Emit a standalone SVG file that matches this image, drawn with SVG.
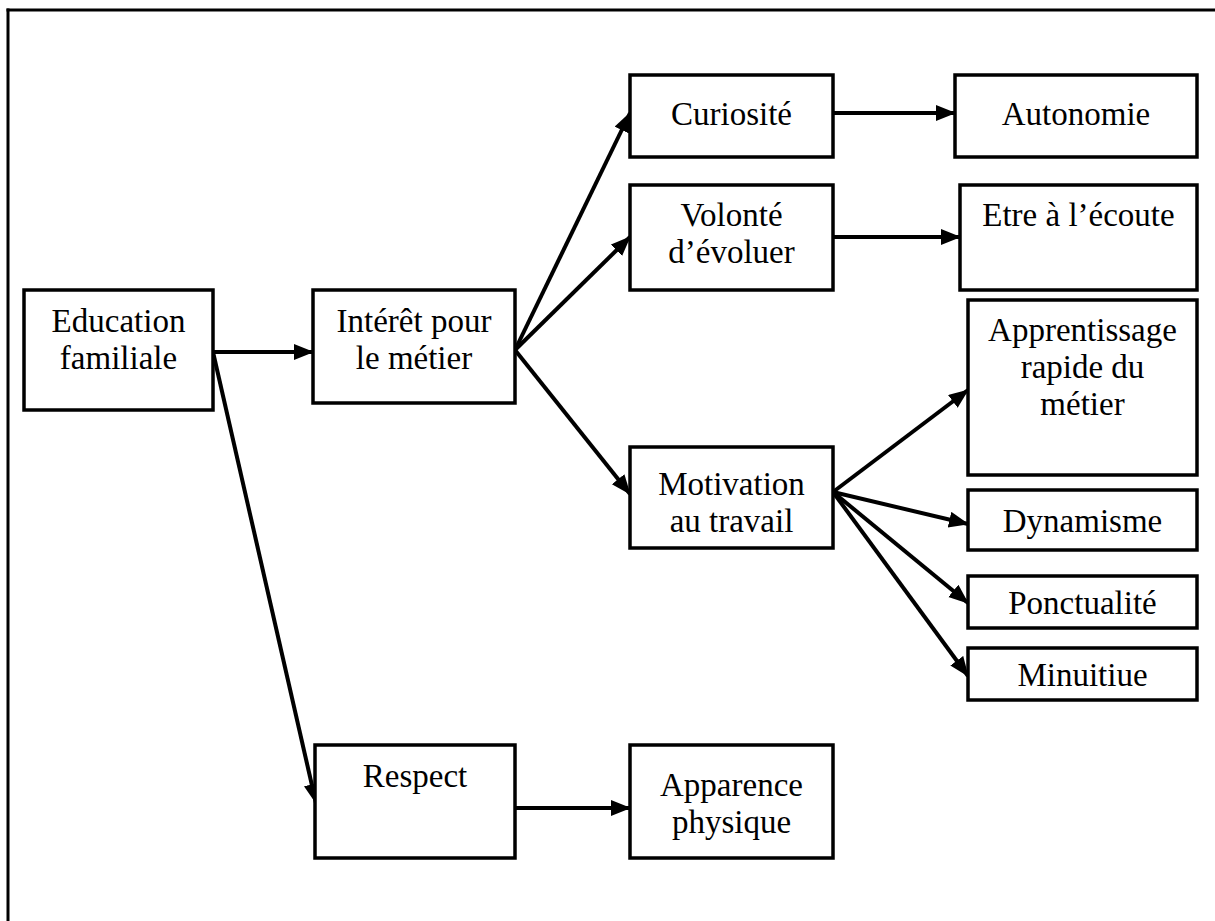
<svg xmlns="http://www.w3.org/2000/svg" width="1215" height="921" viewBox="0 0 1215 921">
<style>
.box{fill:#fff;stroke:#000;stroke-width:3.5}
.t{font-family:"Liberation Serif","Times New Roman",serif;font-size:33px;fill:#000;text-anchor:middle}
.c{stroke:#000;stroke-width:4;fill:none;marker-end:url(#ah)}
</style>
<defs>
<marker id="ah" markerUnits="userSpaceOnUse" markerWidth="22" markerHeight="18" refX="19" refY="8" orient="auto">
<path d="M0,0 L20,8 L0,16 z" fill="#000"/>
</marker>
<linearGradient id="bg" x1="0" x2="1" y1="0" y2="0">
<stop offset="0" stop-color="#aaa"/>
<stop offset="0.3" stop-color="#000"/>
<stop offset="1" stop-color="#000"/>
</linearGradient>
</defs>
<g id="frame">
<line x1="6.5" y1="10" x2="1215" y2="10" stroke="#000" stroke-width="3"/>
<line x1="8" y1="8.5" x2="8" y2="921" stroke="#000" stroke-width="3"/>
<line x1="805" y1="920" x2="1215" y2="920" stroke="url(#bg)" stroke-width="2"/>
</g>
<g id="connectors">
<line class="c" x1="213" y1="352" x2="313" y2="352"/>
<line class="c" x1="515" y1="350" x2="630" y2="113"/>
<line class="c" x1="515" y1="350" x2="630" y2="237"/>
<line class="c" x1="515" y1="350" x2="630" y2="494"/>
<line class="c" x1="833" y1="113" x2="955" y2="113"/>
<line class="c" x1="833" y1="237" x2="960" y2="237"/>
<line class="c" x1="833" y1="492" x2="968" y2="390"/>
<line class="c" x1="833" y1="492" x2="968" y2="524"/>
<line class="c" x1="833" y1="492" x2="968" y2="603"/>
<line class="c" x1="833" y1="492" x2="968" y2="676"/>
<line class="c" x1="213" y1="352" x2="316" y2="803"/>
<line class="c" x1="515" y1="808" x2="630" y2="808"/>
</g>
<g id="education"><rect class="box" x="24" y="290" width="189" height="120"/><text class="t" x="118.5" y="332">Education</text><text class="t" x="118.5" y="369">familiale</text></g>
<g id="interet"><rect class="box" x="313" y="290" width="202" height="113"/><text class="t" x="414" y="332">Intérêt pour</text><text class="t" x="414" y="369">le métier</text></g>
<g id="curiosite"><rect class="box" x="630" y="75" width="203" height="82"/><text class="t" x="731.5" y="125">Curiosité</text></g>
<g id="autonomie"><rect class="box" x="955" y="75" width="242" height="82"/><text class="t" x="1076" y="125">Autonomie</text></g>
<g id="volonte"><rect class="box" x="630" y="185" width="203" height="105"/><text class="t" x="731.5" y="226">Volonté</text><text class="t" x="731.5" y="263">d’évoluer</text></g>
<g id="ecoute"><rect class="box" x="960" y="185" width="237" height="105"/><text class="t" x="1078.5" y="226">Etre à l’écoute</text></g>
<g id="apprentissage"><rect class="box" x="968" y="300" width="229" height="175"/><text class="t" x="1082.5" y="341">Apprentissage</text><text class="t" x="1082.5" y="378">rapide du</text><text class="t" x="1082.5" y="415">métier</text></g>
<g id="motivation"><rect class="box" x="630" y="447" width="203" height="101"/><text class="t" x="731.5" y="495">Motivation</text><text class="t" x="731.5" y="532">au travail</text></g>
<g id="dynamisme"><rect class="box" x="968" y="490" width="229" height="60"/><text class="t" x="1082.5" y="532">Dynamisme</text></g>
<g id="ponctualite"><rect class="box" x="968" y="576" width="229" height="52"/><text class="t" x="1082.5" y="614">Ponctualité</text></g>
<g id="minuitiue"><rect class="box" x="968" y="648" width="229" height="52"/><text class="t" x="1082.5" y="686">Minuitiue</text></g>
<g id="respect"><rect class="box" x="315" y="745" width="200" height="113"/><text class="t" x="415" y="787">Respect</text></g>
<g id="apparence"><rect class="box" x="630" y="745" width="203" height="113"/><text class="t" x="731.5" y="796">Apparence</text><text class="t" x="731.5" y="833">physique</text></g>
</svg>
